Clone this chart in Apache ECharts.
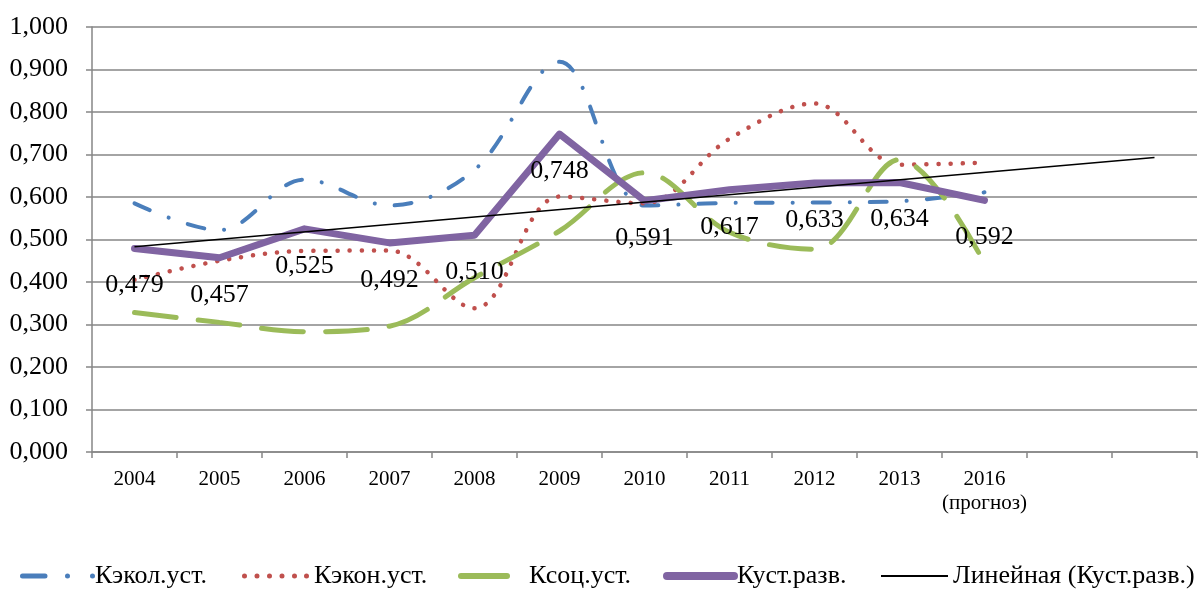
<!DOCTYPE html>
<html lang="ru">
<head>
    <meta charset="utf-8">
    <title>Коэффициенты устойчивости</title>
    <script src="https://cdn.jsdelivr.net/npm/echarts@6/dist/echarts.min.js"></script>
    <style>
        html, body { margin: 0; padding: 0; background: #fff; }
        #main { width: 1204px; height: 589px; }
    </style>
</head>
<body>
<div id="main"></div>
<script>
    // годы (две последние категории пустые - под продолжение тренда)
    var years = ['2004', '2005', '2006', '2007', '2008', '2009', '2010', '2011', '2012', '2013', '2016\n(прогноз)', ' ', '  '];
    var ekol = [0.585, 0.522, 0.641, 0.580, 0.664, 0.918, 0.580, 0.586, 0.587, 0.590, 0.611];
    var ekon = [0.405, 0.450, 0.473, 0.474, 0.338, 0.601, 0.585, 0.737, 0.820, 0.676, 0.681];
    var soc = [0.328, 0.305, 0.283, 0.296, 0.410, 0.520, 0.657, 0.517, 0.477, 0.688, 0.444];
    var kust = [0.479, 0.457, 0.525, 0.492, 0.510, 0.748, 0.591, 0.617, 0.633, 0.634, 0.592];
    // линия тренда: начало и конец
    var trend = [0.483, null, null, null, null, null, null, null, null, null, null, null, 0.693];
    var yTicks = [0, 0.1, 0.2, 0.3, 0.4, 0.5, 0.6, 0.7, 0.8, 0.9, 1.0];

    var serif = '"Liberation Serif", "Times New Roman", serif';
    var grey = '#868686';

    function fmt(v) {
        return v.toFixed(3).replace('.', ',');
    }

    // значки легенды как в Excel (пунктир, точки и т.п.)
    function circ(cx, r) {
        return 'M' + (cx - r) + ',3 a' + r + ',' + r + ' 0 1,0 ' + (2 * r) + ',0 a' + r + ',' + r + ' 0 1,0 ' + (-2 * r) + ',0 Z ';
    }
    var iconEkol = 'path://M2.5,0.5 H25 a2.5,2.5 0 0,1 0,5 H2.5 a2.5,2.5 0 0,1 0,-5 Z ' + circ(47.5, 2.5) + circ(72.5, 2.5);
    var iconEkon = 'path://' + circ(2.5, 2.5) + circ(15, 2.5) + circ(27.5, 2.5) + circ(40, 2.5) + circ(52.5, 2.5) + circ(64.5, 2.5);
    var iconSoc = 'path://M3,0 H49 a3,3 0 0,1 0,6 H3 a3,3 0 0,1 0,-6 Z';
    var iconKust = 'path://M4,0 H71 a4,4 0 0,1 0,8 H4 a4,4 0 0,1 0,-8 Z';
    var iconLin = 'path://M0,0 H67 V2 H0 Z';

    function legendItem(name, icon, left, w, h, padLeft) {
        return {
            top: 558,
            left: left,
            itemWidth: w,
            itemHeight: h,
            icon: icon,
            itemStyle: {borderWidth: 0},
            textStyle: {fontFamily: serif, fontSize: 26, color: '#000', padding: [0, 0, 0, padLeft]},
            data: [name]
        };
    }

    var myChart = echarts.init(document.getElementById('main'));

    var option = {
        animation: false,
        textStyle: {fontFamily: serif, color: '#000'},
        grid: {left: 92, right: 7, top: 27, bottom: 137, containLabel: false},
        legend: [
            legendItem('Кэкол.уст.', iconEkol, 15, 75, 5, -5),
            legendItem('Кэкон.уст.', iconEkon, 237, 67, 5, 0),
            legendItem('Ксоц.уст.', iconSoc, 453, 52, 6, 14),
            legendItem('Куст.разв.', iconKust, 658, 75, 8, -6),
            legendItem('Линейная (Куст.разв.)', iconLin, 876, 67, 2, 0)
        ],
        xAxis: {
            type: 'category',
            data: years,
            boundaryGap: true,
            axisLine: {lineStyle: {color: grey, width: 1.5}},
            axisTick: {show: true, length: 6, lineStyle: {color: grey, width: 1.5}},
            axisLabel: {
                interval: 0,
                margin: 15,
                color: '#000',
                fontFamily: serif,
                fontSize: 21,
                formatter: function (v) {
                    return v.split('\n').map(function (s) { return '{a|' + s + '}'; }).join('\n');
                },
                rich: {
                    a: {fontFamily: serif, fontSize: 21, color: '#000', lineHeight: 24}
                }
            }
        },
        yAxis: {
            type: 'value',
            min: yTicks[0],
            max: yTicks[yTicks.length - 1],
            interval: 0.1,
            axisLine: {show: true, lineStyle: {color: grey, width: 1.5}},
            axisTick: {show: true, length: 6, lineStyle: {color: grey, width: 1.5}},
            splitLine: {lineStyle: {color: grey, width: 1.5}},
            axisLabel: {
                margin: 24,
                color: '#000',
                fontFamily: serif,
                fontSize: 26,
                formatter: fmt
            }
        },
        series: [
            {
                name: 'Кэкол.уст.',
                type: 'line',
                data: ekol,
                smooth: 0.35,
                showSymbol: false,
                symbol: 'none',
                lineStyle: {color: '#4a7ebb', width: 4, type: [17, 20, 0.1, 20], cap: 'round'},
                itemStyle: {color: '#4a7ebb'},
                z: 2
            },
            {
                name: 'Кэкон.уст.',
                type: 'line',
                data: ekon,
                smooth: 0.35,
                showSymbol: false,
                symbol: 'none',
                lineStyle: {color: '#c0504d', width: 4.5, type: [0.1, 12], cap: 'round'},
                itemStyle: {color: '#c0504d'},
                z: 3
            },
            {
                name: 'Ксоц.уст.',
                type: 'line',
                data: soc,
                smooth: 0.35,
                showSymbol: false,
                symbol: 'none',
                lineStyle: {color: '#9bbb59', width: 5, type: [42, 22], cap: 'round'},
                itemStyle: {color: '#9bbb59'},
                z: 4
            },
            {
                name: 'Куст.разв.',
                type: 'line',
                data: kust,
                showSymbol: true,
                symbol: 'circle',
                symbolSize: 0.1,
                lineStyle: {color: '#8064a2', width: 7, join: 'round', cap: 'round'},
                itemStyle: {color: '#8064a2', borderWidth: 0},
                label: {
                    show: true,
                    position: 'bottom',
                    distance: 24,
                    fontFamily: serif,
                    fontSize: 26,
                    color: '#000',
                    formatter: function (p) { return fmt(p.value); }
                },
                z: 5
            },
            {
                name: 'Линейная (Куст.разв.)',
                type: 'line',
                data: trend,
                connectNulls: true,
                showSymbol: false,
                symbol: 'none',
                lineStyle: {color: '#000', width: 1.5},
                itemStyle: {color: '#000'},
                z: 6
            }
        ]
    };

    myChart.setOption(option);
</script>
</body>
</html>
